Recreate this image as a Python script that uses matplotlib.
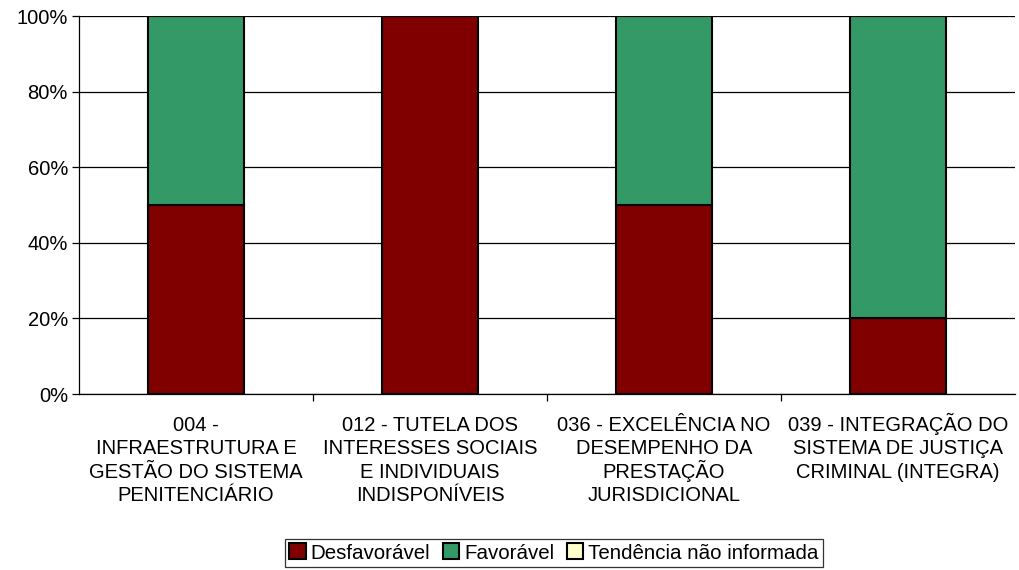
import matplotlib
matplotlib.use("Agg")
import matplotlib.pyplot as plt
import matplotlib.transforms as mtransforms
from matplotlib.patches import Patch
from matplotlib.ticker import FixedLocator, NullFormatter, PercentFormatter

plt.rcParams['font.family'] = ['Liberation Sans', 'DejaVu Sans']

categories = [
    "004 -\nINFRAESTRUTURA E\nGESTÃO DO SISTEMA\nPENITENCIÁRIO",
    "012 - TUTELA DOS\nINTERESSES SOCIAIS\nE INDIVIDUAIS\nINDISPONÍVEIS",
    "036 - EXCELÊNCIA NO\nDESEMPENHO DA\nPRESTAÇÃO\nJURISDICIONAL",
    "039 - INTEGRAÇÃO DO\nSISTEMA DE JUSTIÇA\nCRIMINAL (INTEGRA)",
]
desfavoravel = [50, 100, 50, 20]
favoravel = [50, 0, 50, 80]
nao_informada = [0, 0, 0, 0]

series = [
    ("Desfavorável", desfavoravel, "#800000"),
    ("Favorável", favoravel, "#339966"),
    ("Tendência não informada", nao_informada, "#FFFFCC"),
]

fig = plt.figure(figsize=(10.19, 5.70), dpi=100)
ax = fig.add_axes([79 / 1019, 176 / 570, 936 / 1019, 378 / 570])

x = list(range(len(categories)))
bottom = [0] * len(categories)
for name, vals, color in series:
    ax.bar(x, vals, bottom=bottom, width=0.41, color=color,
           edgecolor="black", linewidth=1.5, zorder=3)
    bottom = [b + v for b, v in zip(bottom, vals)]

ax.set_xlim(-0.5, len(categories) - 0.5)
ax.set_ylim(0, 100)
ax.set_yticks(range(0, 101, 20))
ax.yaxis.set_major_formatter(PercentFormatter(decimals=0))
ax.yaxis.grid(True, color="black", linewidth=0.9, zorder=0)

# Category labels: one text per line so every line sits on a regular baseline grid
ax.set_xticks(x)
ax.set_xticklabels([])
ax.tick_params(axis="x", length=0)
base = ax.get_xaxis_transform()
first_baseline, line_step = 37, 23.3  # pixels below the x axis
for xi, label in zip(x, categories):
    for k, line in enumerate(label.split("\n")):
        tr = mtransforms.offset_copy(base, fig=fig, x=0,
                                     y=-(first_baseline + k * line_step), units="dots")
        ax.text(xi, 0, line, transform=tr, ha="center", va="baseline",
                fontsize=14.5, clip_on=False)

ax.xaxis.set_minor_locator(FixedLocator([i + 0.5 for i in range(len(categories) - 1)]))
ax.xaxis.set_minor_formatter(NullFormatter())
ax.tick_params(axis="x", which="minor", length=5, width=0.9, color="black")
ax.tick_params(axis="y", labelsize=14.5, length=5, width=0.9, pad=3)

for side in ("top", "right"):
    ax.spines[side].set_visible(False)
ax.spines["left"].set_linewidth(0.9)
ax.spines["bottom"].set_linewidth(0.9)

handles = [Patch(facecolor=c, edgecolor="black", linewidth=1.5, label=n)
           for n, _, c in series]
leg = fig.legend(handles=handles, loc="center", bbox_to_anchor=(554 / 1019, 1 - 553 / 570),
                 ncol=3, frameon=True, fancybox=False, fontsize=14.8,
                 handlelength=0.8, handleheight=0.8, handletextpad=0.25,
                 columnspacing=0.6, borderpad=0.22, borderaxespad=0,
                 edgecolor="black")
leg.get_frame().set_linewidth(0.9)

fig.savefig("out.png", dpi=100)
